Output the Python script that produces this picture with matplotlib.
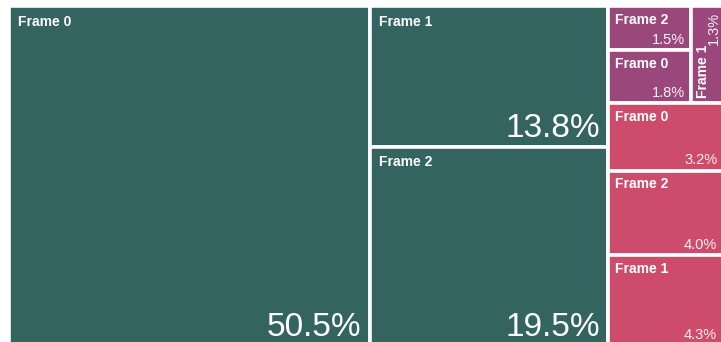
import matplotlib.pyplot as plt
from matplotlib.patches import Rectangle

# --- Data ---
teal_labels = ["Frame 0", "Frame 1", "Frame 2"]
teal_values = [50.5, 13.8, 19.5]

purple_labels = ["Frame 2", "Frame 0", "Frame 1"]
purple_values = [1.5, 1.8, 1.3]

pink_labels = ["Frame 0", "Frame 2", "Frame 1"]
pink_values = [3.2, 4.0, 4.3]

TEAL = "#346460"
PURPLE = "#9a487b"
PINK = "#cd4c6b"

plt.rcParams['font.family'] = ['Liberation Sans', 'DejaVu Sans']


def slice_rect(rect, weights, vertical):
    # split a rect (x, y, w, h) into pieces proportional to weights
    x, y, w, h = rect
    total = sum(weights)
    out = []
    pos = 0.0
    for wt in weights:
        if vertical:
            step = h * wt / total
            out.append((x, y + pos, w, step))
        else:
            step = w * wt / total
            out.append((x + pos, y, step, h))
        pos += step
    return out


def draw_cell(ax, rect, label, value, color):
    x, y, w, h = rect
    ax.add_patch(Rectangle((x, y), w, h, facecolor=color, edgecolor="white", linewidth=2.6))
    big = w > 150 and h > 100
    pct = f"{value:.1f}%"
    if w < 40:
        # narrow cell: rotated labels
        ax.text(x + 5, y + h - 5, label, rotation=90, rotation_mode='anchor',
                ha='left', va='top', color='white', fontsize=10, fontweight='bold')
        ax.text(x + w - 5, y + 6, pct, rotation=90, rotation_mode='anchor',
                ha='right', va='baseline', color='white', fontsize=10.5, alpha=0.92)
        return
    pad = 8.5 if big else 6.5
    ax.text(x + pad, y + pad, label, ha='left', va='top', color='white',
            fontsize=10, fontweight='bold')
    if big:
        ax.text(x + w - 8.5, y + h - 9.5, pct, ha='right', va='baseline', color='white',
                fontsize=24)
    else:
        ax.text(x + w - 6, y + h - 6.5, pct, ha='right', va='baseline', color='white',
                fontsize=10.5, alpha=0.92)


fig = plt.figure(figsize=(7.21, 3.42), dpi=100)
ax = fig.add_axes([0, 0, 1, 1])
ax.set_xlim(0, 721)
ax.set_ylim(342, 0)
ax.axis('off')

region = (9.25, 6.25, 714.0, 339.5)

# top level: teal block on the left, purple over pink on the right
teal_rect, side_rect = slice_rect(region, [sum(teal_values), sum(purple_values) + sum(pink_values)], False)
purple_rect, pink_rect = slice_rect(side_rect, [sum(purple_values), sum(pink_values)], True)

# teal: big frame on the left, other two stacked
t0, t_rest = slice_rect(teal_rect, [teal_values[0], teal_values[1] + teal_values[2]], False)
t1, t2 = slice_rect(t_rest, teal_values[1:], True)
for rect, lab, val in zip([t0, t1, t2], teal_labels, teal_values):
    draw_cell(ax, rect, lab, val, TEAL)

# purple: two stacked on the left, one narrow column on the right
p_stack, p_col = slice_rect(purple_rect, [purple_values[0] + purple_values[1], purple_values[2]], False)
p_a, p_b = slice_rect(p_stack, purple_values[:2], True)
for rect, lab, val in zip([p_a, p_b, p_col], purple_labels, purple_values):
    draw_cell(ax, rect, lab, val, PURPLE)

# pink: three stacked rows
for rect, lab, val in zip(slice_rect(pink_rect, pink_values, True), pink_labels, pink_values):
    draw_cell(ax, rect, lab, val, PINK)

fig.savefig("out.png", dpi=100)
